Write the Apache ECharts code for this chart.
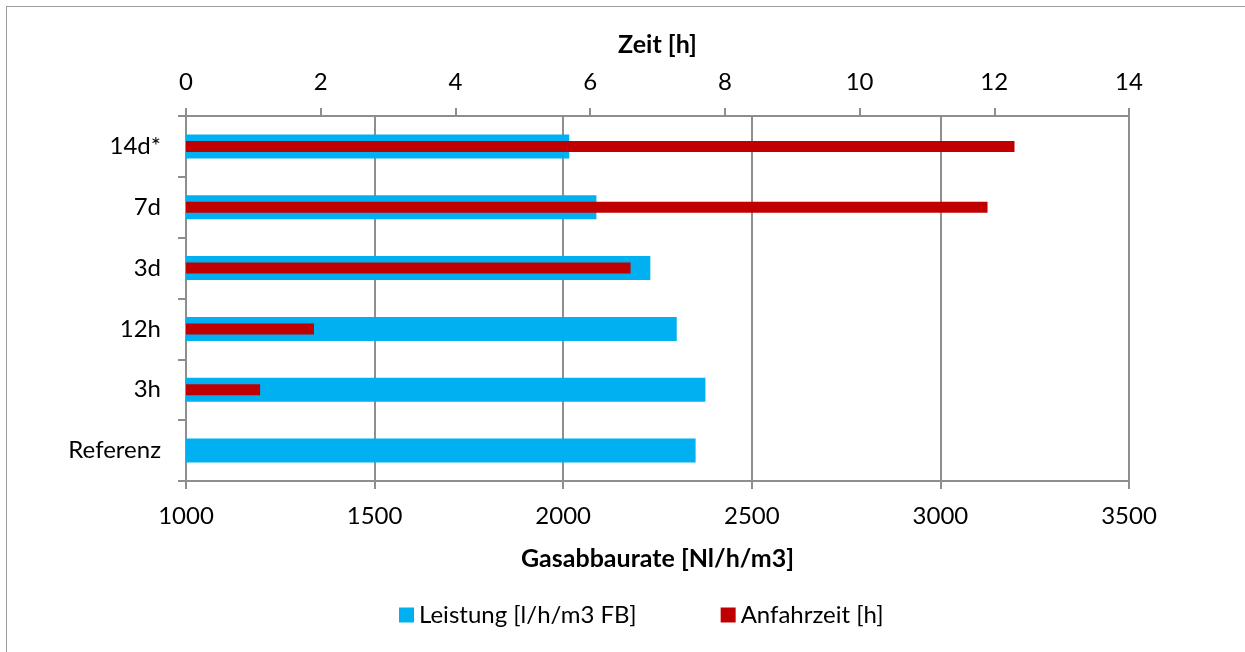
<!DOCTYPE html>
<html>
<head>
<meta charset="utf-8">
<script src="https://cdn.jsdelivr.net/npm/echarts@6/dist/echarts.min.js"></script>
<style>
  html, body { margin: 0; padding: 0; background: #ffffff; overflow: hidden; }
  #frame {
    position: absolute; left: 6px; top: 6px; width: 1300px; height: 700px;
    border: 1.5px solid #9c9c9c; box-sizing: border-box;
  }
  #chart { position: absolute; left: 0; top: 0; width: 1245px; height: 652px; }
</style>
</head>
<body>
<div id="frame"></div>
<div id="chart"></div>
<script>
// Storage duration variants, listed top to bottom
const categories = ['14d*', '7d', '3d', '12h', '3h', 'Referenz'];
// Gas degradation rate [Nl/h/m3] (bottom axis)
const leistung = [2016, 2088, 2231, 2301, 2377, 2351];
// Start-up time [h] (top axis)
const anfahrzeit = [12.3, 11.9, 6.6, 1.9, 1.1, null];

const rateTicks = { min: 1000, max: 3500, interval: 500 };
const timeTicks = { min: 0, max: 14, interval: 2 };

const FONT = 'Lato, "Open Sans", sans-serif';
const AXIS_GRAY = '#8e8e8e';
const TXT = { color: '#000000', fontFamily: FONT, fontSize: 24 };
const TITLE = Object.assign({}, TXT, { fontWeight: 'bold', fontSize: 25 });
const plain = v => String(v);

const chart = echarts.init(document.getElementById('chart'), null, { renderer: 'canvas' });

chart.setOption({
  backgroundColor: 'transparent',
  animation: false,
  grid: { left: 186, right: 116, top: 116, bottom: 171 },
  legend: {
    top: 598,
    left: 394,
    itemWidth: 15,
    itemHeight: 15,
    itemGap: 84,
    icon: 'rect',
    textStyle: TXT,
    data: ['Leistung [l/h/m3 FB]', 'Anfahrzeit [h]']
  },
  xAxis: [
    {
      type: 'value',
      position: 'bottom',
      min: rateTicks.min, max: rateTicks.max, interval: rateTicks.interval,
      name: 'Gasabbaurate [Nl/h/m3]',
      nameLocation: 'middle',
      nameGap: 65,
      nameTextStyle: TITLE,
      axisLine: { show: true, lineStyle: { color: AXIS_GRAY, width: 2 } },
      axisTick: { show: true, length: 8, lineStyle: { color: AXIS_GRAY, width: 2 } },
      axisLabel: Object.assign({}, TXT, { margin: 23, formatter: plain }),
      splitLine: { show: true, lineStyle: { color: AXIS_GRAY, width: 2 } }
    },
    {
      type: 'value',
      position: 'top',
      min: timeTicks.min, max: timeTicks.max, interval: timeTicks.interval,
      name: 'Zeit [h]',
      nameLocation: 'middle',
      nameGap: 59,
      nameTextStyle: TITLE,
      axisLine: { show: true, lineStyle: { color: AXIS_GRAY, width: 2 } },
      axisTick: { show: true, length: 8, lineStyle: { color: AXIS_GRAY, width: 2 } },
      axisLabel: Object.assign({}, TXT, { margin: 22, formatter: plain }),
      splitLine: { show: false }
    }
  ],
  yAxis: [
    {
      type: 'category',
      data: categories,
      inverse: true,
      axisLine: { show: true, lineStyle: { color: AXIS_GRAY, width: 2 } },
      axisTick: { show: true, length: 8, lineStyle: { color: AXIS_GRAY, width: 2 } },
      axisLabel: Object.assign({}, TXT, { margin: 25 }),
      splitLine: { show: false }
    },
    {
      type: 'category',
      data: categories,
      inverse: true,
      show: false
    }
  ],
  series: [
    {
      name: 'Leistung [l/h/m3 FB]',
      type: 'bar',
      xAxisIndex: 0,
      yAxisIndex: 0,
      data: leistung,
      barWidth: 24,
      itemStyle: { color: '#00B0F0' }
    },
    {
      name: 'Anfahrzeit [h]',
      type: 'bar',
      xAxisIndex: 1,
      yAxisIndex: 1,
      data: anfahrzeit,
      barWidth: 11,
      itemStyle: { color: '#C00000' }
    }
  ]
});
</script>
</body>
</html>
